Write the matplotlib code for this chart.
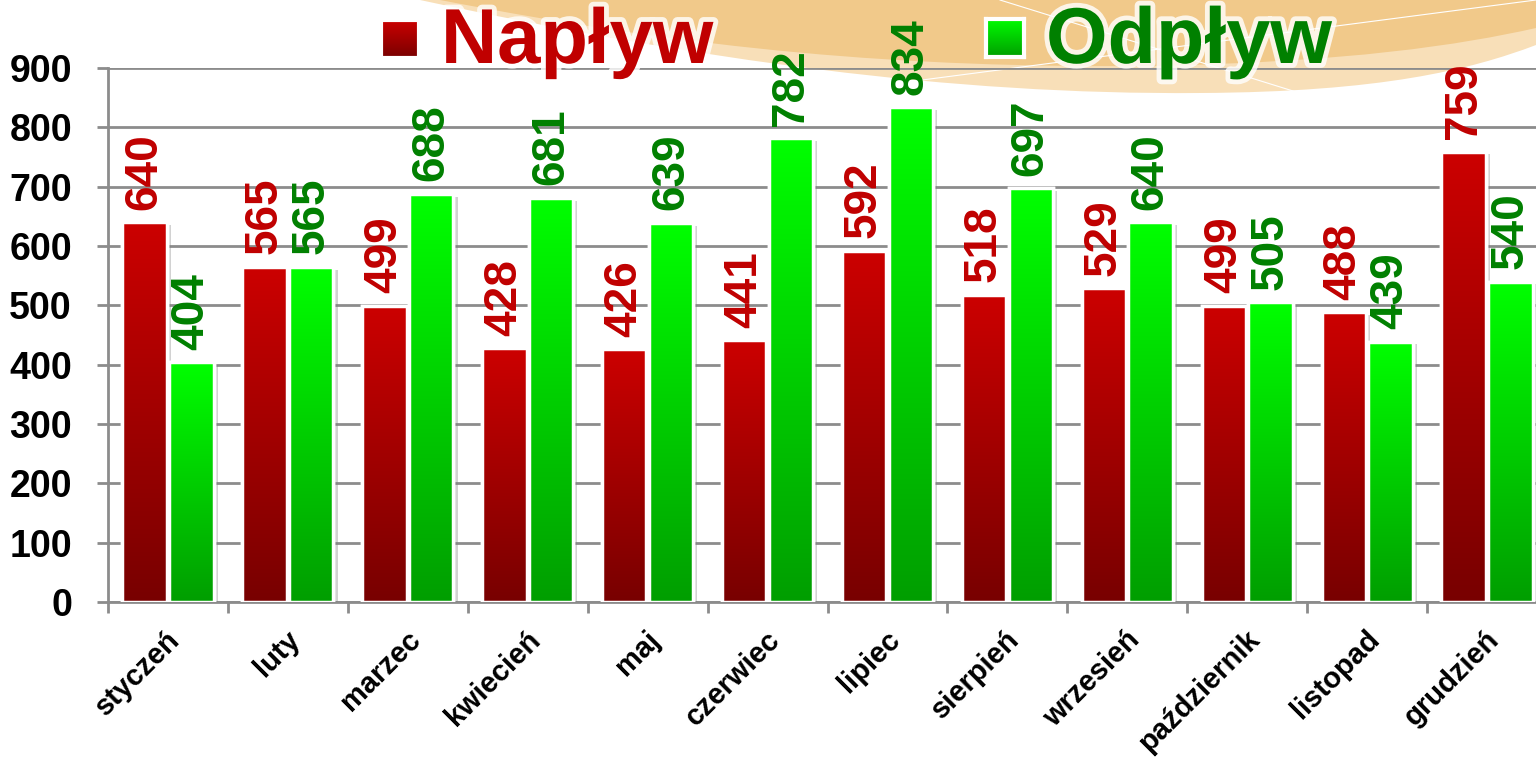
import numpy as np
import matplotlib
matplotlib.use("Agg")
import matplotlib.pyplot as plt
from matplotlib.colors import LinearSegmentedColormap
from matplotlib.path import Path
from matplotlib.patches import PathPatch
import matplotlib.patheffects as pe
from matplotlib.transforms import ScaledTranslation

plt.rcParams['font.family'] = ['Liberation Sans', 'DejaVu Sans']
plt.rcParams['font.weight'] = 'bold'

months = ['styczeń', 'luty', 'marzec', 'kwiecień', 'maj', 'czerwiec',
          'lipiec', 'sierpień', 'wrzesień', 'październik', 'listopad', 'grudzień']
naplyw = [640, 565, 499, 428, 426, 441, 592, 518, 529, 499, 488, 759]
odplyw = [404, 565, 688, 681, 639, 782, 834, 697, 640, 505, 439, 540]
yticks = [0, 100, 200, 300, 400, 500, 600, 700, 800, 900]

red_cmap = LinearSegmentedColormap.from_list('r', ['#780000', '#cc0000'])
green_cmap = LinearSegmentedColormap.from_list('g', ['#009e00', '#00ff00'])
red_txt = '#c00000'
green_txt = '#008000'

fig = plt.figure(figsize=(15.36, 7.6), dpi=100, facecolor='white')

def fpt(px, py):
    return (px / 1536, 1 - py / 760)

# decorative peach swoosh at the top (behind everything)
codes = [Path.MOVETO, Path.CURVE4, Path.CURVE4, Path.CURVE4,
         Path.CURVE4, Path.CURVE4, Path.CURVE4, Path.LINETO, Path.CLOSEPOLY]
light = [fpt(420, 0), fpt(700, 60), fpt(950, 95), fpt(1200, 93),
         fpt(1380, 92), fpt(1470, 70), fpt(1536, 45), fpt(1536, 0), fpt(420, 0)]
fig.patches.append(PathPatch(Path(light, codes), transform=fig.transFigure,
                             facecolor='#f8dfb8', edgecolor='none', zorder=-2))
dark = [fpt(440, 0), fpt(700, 50), fpt(900, 68), fpt(1150, 66),
        fpt(1350, 62), fpt(1460, 45), fpt(1536, 28), fpt(1536, 0), fpt(440, 0)]
fig.patches.append(PathPatch(Path(dark, codes), transform=fig.transFigure,
                             facecolor='#f1c98a', edgecolor='none', zorder=-2))
for (a, b) in [((830, 92), (1536, 0)), ((1000, 0), (1380, 118))]:
    fig.lines.append(plt.Line2D([a[0] / 1536, b[0] / 1536], [1 - a[1] / 760, 1 - b[1] / 760],
                                transform=fig.transFigure, color='white', lw=0.8, zorder=-1))

ax = fig.add_axes([108 / 1536, 158 / 760, 1439 / 1536, 534 / 760])
ax.set_facecolor('none')

x = np.arange(len(months))
w = 0.37
off = 0.195

grad = np.linspace(1, 0, 256).reshape(-1, 1)
for vals, dx, cmap, tc in [(naplyw, -off, red_cmap, red_txt), (odplyw, off, green_cmap, green_txt)]:
    bars = ax.bar(x + dx, vals, w, color='white', edgecolor='white', linewidth=2.5, zorder=3,
                  path_effects=[pe.SimplePatchShadow(offset=(3, -2), shadow_rgbFace='#808080', alpha=0.35),
                                pe.Normal()])
    for b, v in zip(bars, vals):
        im = ax.imshow(grad, cmap=cmap, aspect='auto', origin='upper',
                       extent=(b.get_x(), b.get_x() + b.get_width(), 0, v), zorder=3.5)
        im.set_clip_path(b)
        ax.annotate(str(v), (b.get_x() + b.get_width() / 2, v), xytext=(0, 9),
                    textcoords='offset points', rotation=90, ha='center', va='bottom',
                    fontsize=33, fontweight='bold', color=tc, zorder=5)
    ax.bar(x + dx, vals, w, color='none', edgecolor='white', linewidth=2.5, zorder=4)

ax.set_xlim(-0.5, len(months) - 0.5)
ax.set_ylim(0, 900)
ax.set_yticks(yticks)
ax.set_yticklabels([str(t) for t in yticks], fontsize=27, fontweight='bold')
ax.tick_params(axis='y', length=8, width=2, color='#8c8c8c', pad=18)
ax.grid(axis='y', color='#8c8c8c', lw=2, zorder=1)
ax.set_axisbelow(True)

ax.set_xticks(np.arange(len(months) + 1) - 0.5)
ax.set_xticklabels([])
ax.tick_params(axis='x', which='major', length=8, width=2, color='#8c8c8c')
ax.set_xticks(x, minor=True)
ax.set_xticklabels(months, minor=True, rotation=45, ha='right', va='center',
                   rotation_mode='anchor', fontsize=21, fontweight='bold')
ax.tick_params(axis='x', which='minor', length=0, pad=24)
shift = ScaledTranslation(8 / 100, 0, fig.dpi_scale_trans)
for lab in ax.get_xticklabels(minor=True):
    lab.set_transform(lab.get_transform() + shift)

for s in ['top', 'right']:
    ax.spines[s].set_visible(False)
for s in ['left', 'bottom']:
    ax.spines[s].set_color('#8c8c8c')
    ax.spines[s].set_linewidth(2)

# legend
glow = [pe.withStroke(linewidth=7, foreground='white', alpha=0.8)]
for (px, py, cmap) in [(381, 20, red_cmap), (986, 19, green_cmap)]:
    sq = fig.add_axes([px / 1536, 1 - (py + 38) / 760, 38 / 1536, 38 / 760], zorder=5)
    sq.imshow(grad, cmap=cmap, aspect='auto')
    sq.set_xticks([])
    sq.set_yticks([])
    for s in sq.spines.values():
        s.set_color('white')
        s.set_linewidth(3)
fig.text(441 / 1536, 1 - 63 / 760, 'Napływ', fontsize=56, fontweight='bold', color=red_txt,
         ha='left', va='baseline', path_effects=glow, zorder=6)
fig.text(1046 / 1536, 1 - 63 / 760, 'Odpływ', fontsize=57, fontweight='bold', color=green_txt,
         ha='left', va='baseline', path_effects=glow, zorder=6)

fig.savefig('out.png', dpi=100, facecolor='white')
